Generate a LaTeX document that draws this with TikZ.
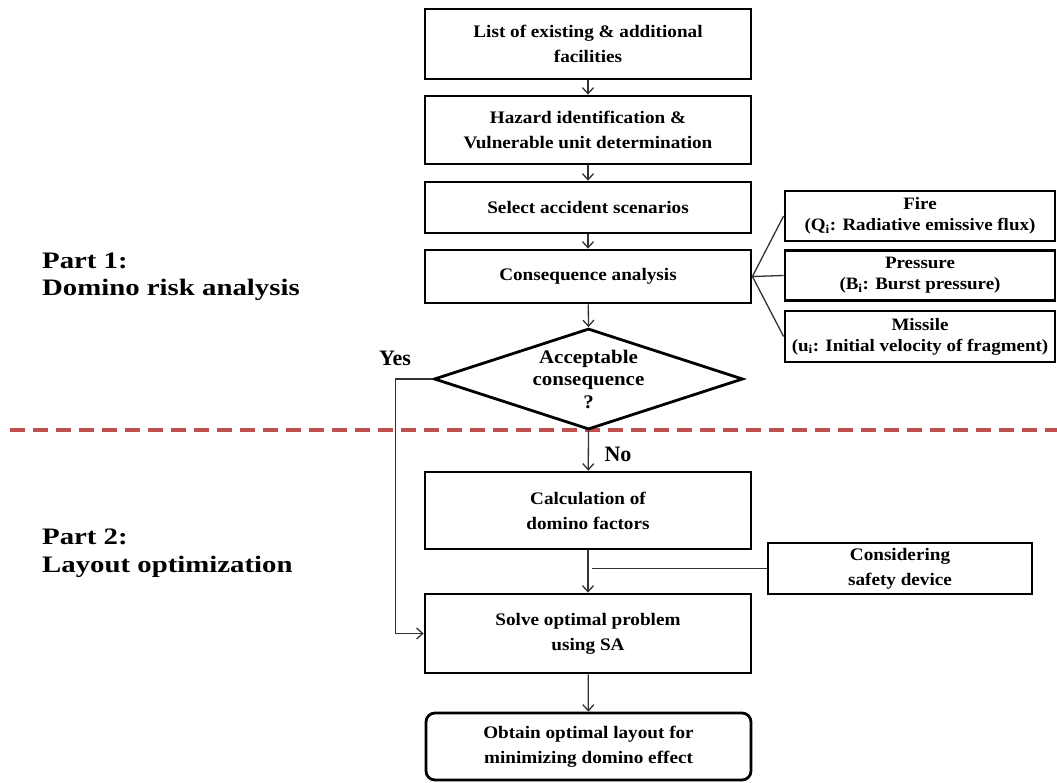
\documentclass[tikz,border=0pt]{standalone}
\usepackage{fontspec}
\setmainfont{Liberation Serif}
\newfontfamily\boxf{Liberation Serif}[FakeStretch=1.09]
\newfontfamily\partf{Liberation Serif}[FakeStretch=1.22]
\newfontfamily\ynf{Liberation Serif}[FakeStretch=1.0]
\usetikzlibrary{shapes.geometric,arrows.meta}
\definecolor{dashred}{RGB}{192,80,77}
\definecolor{conn}{RGB}{50,50,50}
\begin{document}
\begin{tikzpicture}[x=1pt,y=-1pt,
  box/.style={draw, line width=2.8pt, inner sep=0pt, align=center,
    font=\boxf\bfseries\fontsize{17.6}{25}\selectfont},
  sidebox/.style={box, font=\boxf\bfseries\fontsize{17.4}{21}\selectfont},
  arr/.style={draw=conn, line width=1.3pt, -{Straight Barb[length=6pt,width=11pt]}},
  conline/.style={draw=conn, line width=1.3pt},
  partlabel/.style={anchor=west, align=left, inner sep=0pt,
    font=\partf\bfseries\fontsize{23.6}{27.5}\selectfont},
  yn/.style={inner sep=0pt, font=\ynf\bfseries\fontsize{22}{25}\selectfont},
]
\useasboundingbox (0,0) rectangle (1057,782);

% separator
\draw[dashred, line width=3.5pt, dash pattern=on 15pt off 8pt] (10,430) -- (1057,430);

% main column
\node[box, minimum width=326pt, minimum height=70pt] (list) at (588,44)
  {List of existing \& additional\\facilities};
\node[box, minimum width=326pt, minimum height=68pt] (haz) at (588,130)
  {Hazard identification \&\\Vulnerable unit determination};
\node[box, minimum width=326pt, minimum height=51pt] (sel) at (588,207.5)
  {Select accident scenarios};
\node[box, minimum width=326pt, minimum height=53pt] (cons) at (588,276.5)
  {Consequence analysis};
\node[diamond, draw, line width=2.8pt, inner sep=0pt, minimum width=309pt,
  minimum height=101pt] (dec) at (588.5,379) {};
\node[align=center, inner sep=0pt, font=\boxf\bfseries\fontsize{19.2}{22.5}\selectfont]
  (dectext) at (588.5,379) {Acceptable\\consequence\\?};
\node[box, minimum width=326pt, minimum height=77pt] (calc) at (588,510.5)
  {Calculation of\\domino factors};
\node[box, minimum width=326pt, minimum height=79pt] (solve) at (588,633.5)
  {Solve optimal problem\\using SA};
\node[box, rounded corners=9pt, minimum width=325pt, minimum height=67pt] (obt) at (588.5,746.5)
  {Obtain optimal layout for\\minimizing domino effect};

% side boxes
\node[sidebox, minimum width=270pt, minimum height=50pt] (fire) at (920,216)
  {Fire\\(Q\textsubscript{i}: Radiative emissive flux)};
\node[sidebox, minimum width=270pt, minimum height=50pt] (pres) at (920,275.5)
  {Pressure\\(B\textsubscript{i}: Burst pressure)};
\node[sidebox, minimum width=270pt, minimum height=51pt] (miss) at (920,336.5)
  {Missile\\(u\textsubscript{i}: Initial velocity of fragment)};
\node[box, minimum width=264pt, minimum height=51pt] (safe) at (900,568.5)
  {Considering\\safety device};

% labels
\node[partlabel] (p1) at (42,277) {Part 1:\\Domino risk analysis};
\node[partlabel] (p2) at (42,553) {Part 2:\\Layout optimization};
\node[yn] (yes) at (395,358) {Yes};
\node[yn] (no) at (618,454) {No};

% connectors
\draw[arr] (list) -- (haz);
\draw[arr] (haz) -- (sel);
\draw[arr] (sel) -- (cons);
\draw[arr] (cons) -- (dec.north);
\draw[arr] (dec.south) -- (calc);
\draw[arr] (calc) -- (solve);
\draw[arr] (solve) -- (obt);
\draw[arr] (dec.west) -- ++(-37,0) |- (solve.west);
\draw[conline] (cons.east) -- (fire.west);
\draw[conline] (cons.east) -- (pres.west);
\draw[conline] (cons.east) -- (miss.west);
\coordinate (safeend) at (592,568.5);
\draw[conline] (safe.west) -- (safeend);
\end{tikzpicture}
\end{document}
